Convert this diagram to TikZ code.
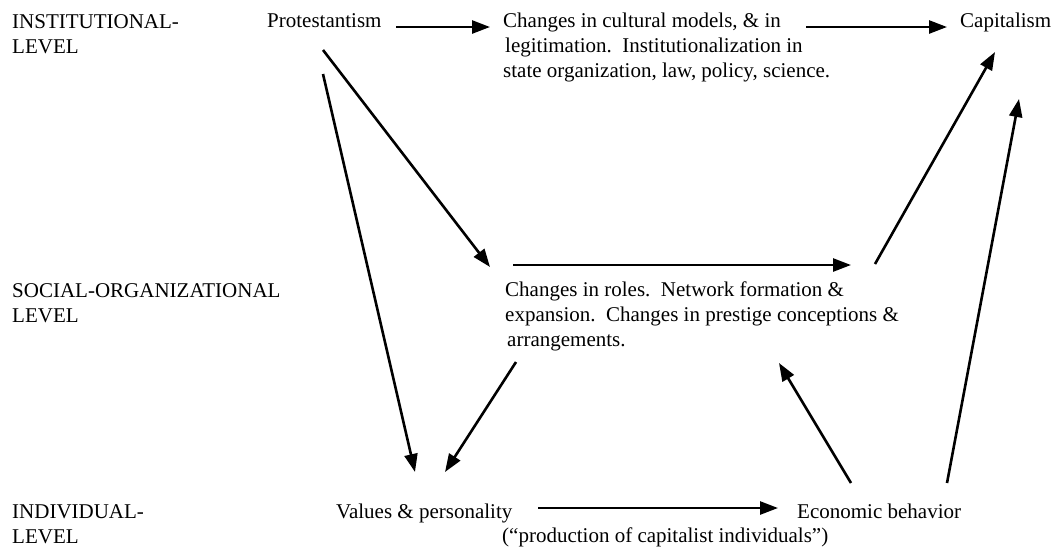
\documentclass[tikz,border=0pt]{standalone}
\usepackage{fontspec}
\setmainfont{Liberation Serif}
\usetikzlibrary{arrows.meta}
\begin{document}
\begin{tikzpicture}[x=1pt,y=-1pt,
  lbl/.style={anchor=base west,inner sep=0pt,align=left,font=\fontsize{21pt}{25pt}\selectfont},
  arr/.style={line width=2.6pt,-{Triangle[length=18pt,width=13pt]}}]
\useasboundingbox (0,0) rectangle (1059,550);
% level labels (anchor = baseline of last line)
\node[lbl] (inst) at (12,53) {INSTITUTIONAL-\\LEVEL};
\node[lbl] (soc) at (12,322) {SOCIAL-ORGANIZATIONAL\\LEVEL};
\node[lbl] (ind) at (12,543) {INDIVIDUAL-\\LEVEL};
% content nodes
\node[lbl] (prot) at (267,27) {Protestantism};
\node[lbl] (cult) at (503,77) {Changes in cultural models, \& in\\\hspace{2pt}legitimation.\ \ Institutionalization in\\state organization, law, policy, science.};
\node[lbl] (cap) at (960,27) {Capitalism};
\node[lbl] (roles) at (505,346) {Changes in roles.\ \ Network formation \&\\expansion.\ \ Changes in prestige conceptions \&\\\hspace{2pt}arrangements.};
\node[lbl] (val) at (336,518) {Values \& personality};
\node[lbl] (prod) at (502,542) {(“production of capitalist individuals”)};
\node[lbl] (econ) at (797,518) {Economic behavior};
% connector end points
\coordinate (a1) at (396,27);   \coordinate (b1) at (490,27);
\coordinate (a2) at (806,27);   \coordinate (b2) at (947,27);
\coordinate (a3) at (323,50);   \coordinate (b3) at (490,267);
\coordinate (a4) at (323,74);   \coordinate (b4) at (415,472);
\coordinate (a5) at (513,265);  \coordinate (b5) at (851,265);
\coordinate (a6) at (875,264);  \coordinate (b6) at (995,52);
\coordinate (a7) at (516,362);  \coordinate (b7) at (445,472);
\coordinate (a8) at (851,483);  \coordinate (b8) at (779,363);
\coordinate (a9) at (947,483);  \coordinate (b9) at (1019,99);
\coordinate (a10) at (538,508); \coordinate (b10) at (778,508);
\foreach \i in {1,...,10} {\draw[arr] (a\i) -- (b\i);}
\end{tikzpicture}
\end{document}
